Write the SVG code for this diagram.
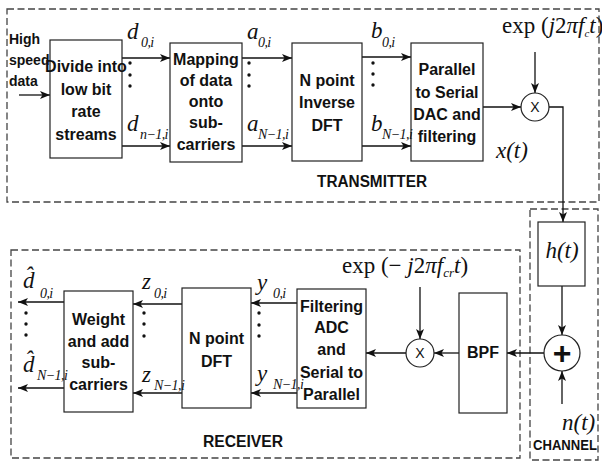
<svg xmlns="http://www.w3.org/2000/svg" width="602" height="461" viewBox="0 0 602 461">
<defs>
<style>
.box{fill:#fff;stroke:#222;stroke-width:1.2}
.dash{fill:none;stroke:#444;stroke-width:1.3;stroke-dasharray:7 3.5}
.ln{fill:none;stroke:#111;stroke-width:1.3}
.ar{marker-end:url(#ah)}
.dot{fill:#111}
.t{font-family:"Liberation Sans Narrow","Liberation Sans",Arial,sans-serif;font-weight:bold;font-size:16px;text-anchor:middle;fill:#111}
.tl{text-anchor:start;font-size:14px}
.op{font-family:"Liberation Sans",Arial,sans-serif;font-size:14px;text-anchor:middle;fill:#111}
.m{font-family:"Liberation Serif","Times New Roman",serif;font-style:italic;font-size:23px;fill:#111}
.s{font-size:14px;letter-spacing:-0.6px}
.r{font-style:normal}
.cap{font-family:"Liberation Sans",Arial,sans-serif;font-weight:bold;fill:#111}
</style>
<marker id="ah" viewBox="0 0 10 8" refX="10" refY="4" markerWidth="10" markerHeight="8" orient="auto" markerUnits="userSpaceOnUse">
<path d="M0,0 L10,4 L0,8 L2.5,4 z" fill="#111"/>
</marker>
</defs>
<rect width="602" height="461" fill="#fff"/>

<g id="frames">
<rect class="dash" x="7" y="9" width="592" height="193"/>
<rect class="dash" x="530" y="209" width="68" height="251"/>
<rect class="dash" x="11" y="250" width="509" height="208"/>
<text class="cap" x="317" y="187" font-size="16" textLength="110" lengthAdjust="spacingAndGlyphs">TRANSMITTER</text>
<text class="cap" x="203" y="447" font-size="16" textLength="80" lengthAdjust="spacingAndGlyphs">RECEIVER</text>
<text class="cap" x="533" y="450" font-size="14" textLength="64" lengthAdjust="spacingAndGlyphs">CHANNEL</text>
</g>

<g id="connectors">
<path class="ln ar" d="M19,95 H50"/>
<path class="ln ar" d="M122,58 H170"/>
<path class="ln ar" d="M122,146 H170"/>
<path class="ln ar" d="M242,58 H292"/>
<path class="ln ar" d="M242,146 H292"/>
<path class="ln ar" d="M362,57 H411"/>
<path class="ln ar" d="M362,146 H411"/>
<path class="ln ar" d="M483,107 H521"/>
<path class="ln ar" d="M535,52 V93"/>
<path class="ln ar" d="M549,107 H563 V222"/>
<path class="ln ar" d="M562,286 V335"/>
<path class="ln ar" d="M562,404 V371"/>
<path class="ln ar" d="M544,353 H507"/>
<path class="ln ar" d="M459,353 H434"/>
<path class="ln ar" d="M406,353 H366"/>
<path class="ln ar" d="M420,287 V339"/>
<path class="ln ar" d="M297,303 H251"/>
<path class="ln ar" d="M297,393 H251"/>
<path class="ln ar" d="M182,304 H133"/>
<path class="ln ar" d="M182,393 H133"/>
<path class="ln ar" d="M64,302 H18"/>
<path class="ln ar" d="M64,388 H18"/>
<g id="dots">
<circle class="dot" cx="130" cy="63" r="1.7"/><circle class="dot" cx="130" cy="75" r="1.7"/><circle class="dot" cx="130" cy="86" r="1.7"/>
<circle class="dot" cx="249" cy="63" r="1.7"/><circle class="dot" cx="249" cy="75" r="1.7"/><circle class="dot" cx="249" cy="86" r="1.7"/>
<circle class="dot" cx="373" cy="63" r="1.7"/><circle class="dot" cx="373" cy="74" r="1.7"/><circle class="dot" cx="373" cy="85" r="1.7"/>
<circle class="dot" cx="259" cy="313" r="1.7"/><circle class="dot" cx="259" cy="325" r="1.7"/><circle class="dot" cx="259" cy="336" r="1.7"/>
<circle class="dot" cx="144" cy="313" r="1.7"/><circle class="dot" cx="144" cy="324" r="1.7"/><circle class="dot" cx="144" cy="336" r="1.7"/>
<circle class="dot" cx="26" cy="313" r="1.7"/><circle class="dot" cx="26" cy="324" r="1.7"/><circle class="dot" cx="26" cy="335" r="1.7"/>
</g>
</g>

<g id="divide">
<rect class="box" x="50" y="40" width="72" height="118"/>
<text class="t" x="86" y="72">Divide into</text>
<text class="t" x="86" y="95">low bit</text>
<text class="t" x="86" y="117">rate</text>
<text class="t" x="86" y="140">streams</text>
</g>

<g id="input">
<text class="t tl" x="9" y="44">High</text>
<text class="t tl" x="9" y="65">speed</text>
<text class="t tl" x="9" y="86">data</text>
</g>

<g id="mapping">
<rect class="box" x="170" y="43" width="72" height="119"/>
<text class="t" x="206" y="65">Mapping</text>
<text class="t" x="206" y="86">of data</text>
<text class="t" x="206" y="107">onto</text>
<text class="t" x="206" y="128">sub-</text>
<text class="t" x="206" y="150">carriers</text>
</g>

<g id="idft">
<rect class="box" x="292" y="43" width="70" height="118"/>
<text class="t" x="327" y="86">N point</text>
<text class="t" x="327" y="108">Inverse</text>
<text class="t" x="327" y="131">DFT</text>
</g>

<g id="p2s">
<rect class="box" x="411" y="43" width="72" height="118"/>
<text class="t" x="447" y="75">Parallel</text>
<text class="t" x="447" y="98">to Serial</text>
<text class="t" x="447" y="120">DAC and</text>
<text class="t" x="447" y="142">filtering</text>
</g>

<g id="mixer-tx">
<circle class="box" cx="535" cy="107" r="14"/>
<text class="op" x="535" y="112">X</text>
</g>

<g id="channel-h">
<rect class="box" x="538" y="222" width="47" height="64"/>
<text class="m" x="562" y="258" font-size="24" text-anchor="middle">h(t)</text>
</g>

<g id="adder">
<circle class="box" cx="562" cy="353" r="18"/>
<text class="cap" x="562" y="364" font-size="32" text-anchor="middle">+</text>
</g>

<g id="bpf">
<rect class="box" x="459" y="293" width="48" height="120"/>
<text class="t" x="483" y="358">BPF</text>
</g>

<g id="mixer-rx">
<circle class="box" cx="420" cy="353" r="14"/>
<text class="op" x="420" y="358">X</text>
</g>

<g id="filtering">
<rect class="box" x="297" y="289" width="69" height="119"/>
<text class="t" x="331.5" y="312">Filtering</text>
<text class="t" x="331.5" y="333">ADC</text>
<text class="t" x="331.5" y="355">and</text>
<text class="t" x="331.5" y="378">Serial to</text>
<text class="t" x="331.5" y="400">Parallel</text>
</g>

<g id="dft">
<rect class="box" x="182" y="288" width="69" height="120"/>
<text class="t" x="216.5" y="344">N point</text>
<text class="t" x="216.5" y="367">DFT</text>
</g>

<g id="weight">
<rect class="box" x="64" y="291" width="69" height="121"/>
<text class="t" x="98.5" y="325">Weight</text>
<text class="t" x="98.5" y="347">and add</text>
<text class="t" x="98.5" y="368">sub-</text>
<text class="t" x="98.5" y="390">carriers</text>
</g>

<g id="labels">
<text class="m" x="127" y="39">d</text><text class="m s" x="141" y="47">0,i</text>
<text class="m" x="127" y="131">d</text><text class="m s" x="140" y="139">n−1,i</text>
<text class="m" x="247" y="39">a</text><text class="m s" x="258" y="47">0,i</text>
<text class="m" x="247" y="131">a</text><text class="m s" x="258" y="139">N−1,i</text>
<text class="m" x="371" y="38">b</text><text class="m s" x="382" y="47">0,i</text>
<text class="m" x="371" y="131">b</text><text class="m s" x="382" y="139">N−1,i</text>
<text class="m" x="496" y="158">x(t)</text>
<text class="m" x="502" y="33" font-size="16.5"><tspan class="r">exp (</tspan>j<tspan class="r">2</tspan>πf<tspan dy="4" font-size="11">c</tspan><tspan dy="-4">t</tspan><tspan class="r">)</tspan></text>
<text class="m" x="342" y="273" font-size="21"><tspan class="r">exp (− </tspan>j<tspan class="r">2</tspan>πf<tspan dy="4" font-size="13">cr</tspan><tspan dy="-4">t</tspan><tspan class="r">)</tspan></text>
<text class="m" x="562" y="430" font-size="24">n(t)</text>
<text class="m" x="257" y="290">y</text><text class="m s" x="273" y="298">0,i</text>
<text class="m" x="257" y="381">y</text><text class="m s" x="273" y="389">N−1,i</text>
<text class="m" x="142" y="289">z</text><text class="m s" x="154" y="298">0,i</text>
<text class="m" x="142" y="382">z</text><text class="m s" x="154" y="390">N−1,i</text>
<text class="m" x="23" y="288">d̂</text><text class="m s" x="40" y="298">0,i</text>
<text class="m" x="23" y="372">d̂</text><text class="m s" x="37" y="380">N−1,i</text>
</g>
</svg>
